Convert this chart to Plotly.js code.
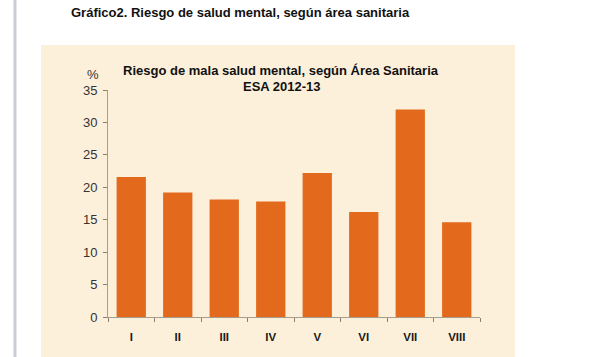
<!DOCTYPE html>
<html><head><meta charset="utf-8">
<script src="https://cdn.plot.ly/plotly-3.0.1.min.js"></script>
<style>html,body{margin:0;padding:0;background:#fff;}</style>
</head><body>
<div id="chart" style="width:594px;height:357px;"></div>
<script>
const areas = ["I","II","III","IV","V","VI","VII","VIII"];
const riesgo = [21.6, 19.2, 18.1, 17.8, 22.2, 16.2, 32.0, 14.6];
const yTicks = [0,5,10,15,20,25,30,35];

const W = 594, H = 357, L = 108, R = 114, T = 90, B = 40;
const pw = W - L - R, ph = H - T - B;
const px = v => (v - L) / pw;
const py = v => (H - B - v) / ph;

const trace = {
  type: 'bar', x: areas, y: riesgo,
  marker: {color: '#e36a1c', line: {width: 0}},
  hoverinfo: 'skip'
};

const layout = {
  width: W, height: H,
  margin: {l: L, r: R, t: T, b: B, pad: 0},
  paper_bgcolor: '#ffffff', plot_bgcolor: 'rgba(0,0,0,0)',
  showlegend: false,
  bargap: 0.37,
  font: {family: 'Liberation Sans, Arial, sans-serif', color: '#222'},
  xaxis: {
    type: 'category', showline: true, linecolor: '#a89c8c', linewidth: 1,
    ticks: 'outside', tickson: 'boundaries', ticklen: 4, tickcolor: '#8a8070',
    tickfont: {size: 11.5, color: '#1a1a1a', weight: 'bold'},
    ticklabelstandoff: 9, showgrid: false, zeroline: false, fixedrange: true
  },
  yaxis: {
    range: [0, 35], tickvals: yTicks, showline: true, linecolor: '#a89c8c', linewidth: 1,
    ticks: 'outside', ticklen: 4, tickcolor: '#8a8070',
    tickfont: {size: 13, color: '#333'}, ticklabelstandoff: 3,
    showgrid: false, zeroline: false, fixedrange: true
  },
  shapes: [
    {type: 'rect', xref: 'paper', yref: 'paper', layer: 'below',
     x0: px(41), x1: px(515), y0: py(357), y1: py(45),
     fillcolor: '#fcf0da', line: {width: 0}},
    {type: 'line', xref: 'paper', yref: 'paper', layer: 'below',
     x0: px(15), x1: px(15), y0: py(357), y1: py(0),
     line: {color: '#c9cdd9', width: 3}}
  ],
  annotations: [
    {text: '<b>Gráfico2. Riesgo de salud mental, según área sanitaria</b>',
     xref: 'paper', yref: 'paper', x: px(240), y: py(12), xanchor: 'center', yanchor: 'middle',
     showarrow: false, font: {size: 13, color: '#111'}},
    {text: '<b>Riesgo de mala salud mental, según Área Sanitaria</b>',
     xref: 'paper', yref: 'paper', x: px(281), y: py(70), xanchor: 'center', yanchor: 'middle',
     showarrow: false, font: {size: 13, color: '#111'}},
    {text: '<b>ESA 2012-13</b>',
     xref: 'paper', yref: 'paper', x: px(282), y: py(86), xanchor: 'center', yanchor: 'middle',
     showarrow: false, font: {size: 13, color: '#111'}},
    {text: '%',
     xref: 'paper', yref: 'paper', x: px(93), y: py(75), xanchor: 'center', yanchor: 'middle',
     showarrow: false, font: {size: 13, color: '#333'}}
  ]
};

Plotly.newPlot('chart', [trace], layout, {displayModeBar: false, staticPlot: true});
</script>
</body></html>
